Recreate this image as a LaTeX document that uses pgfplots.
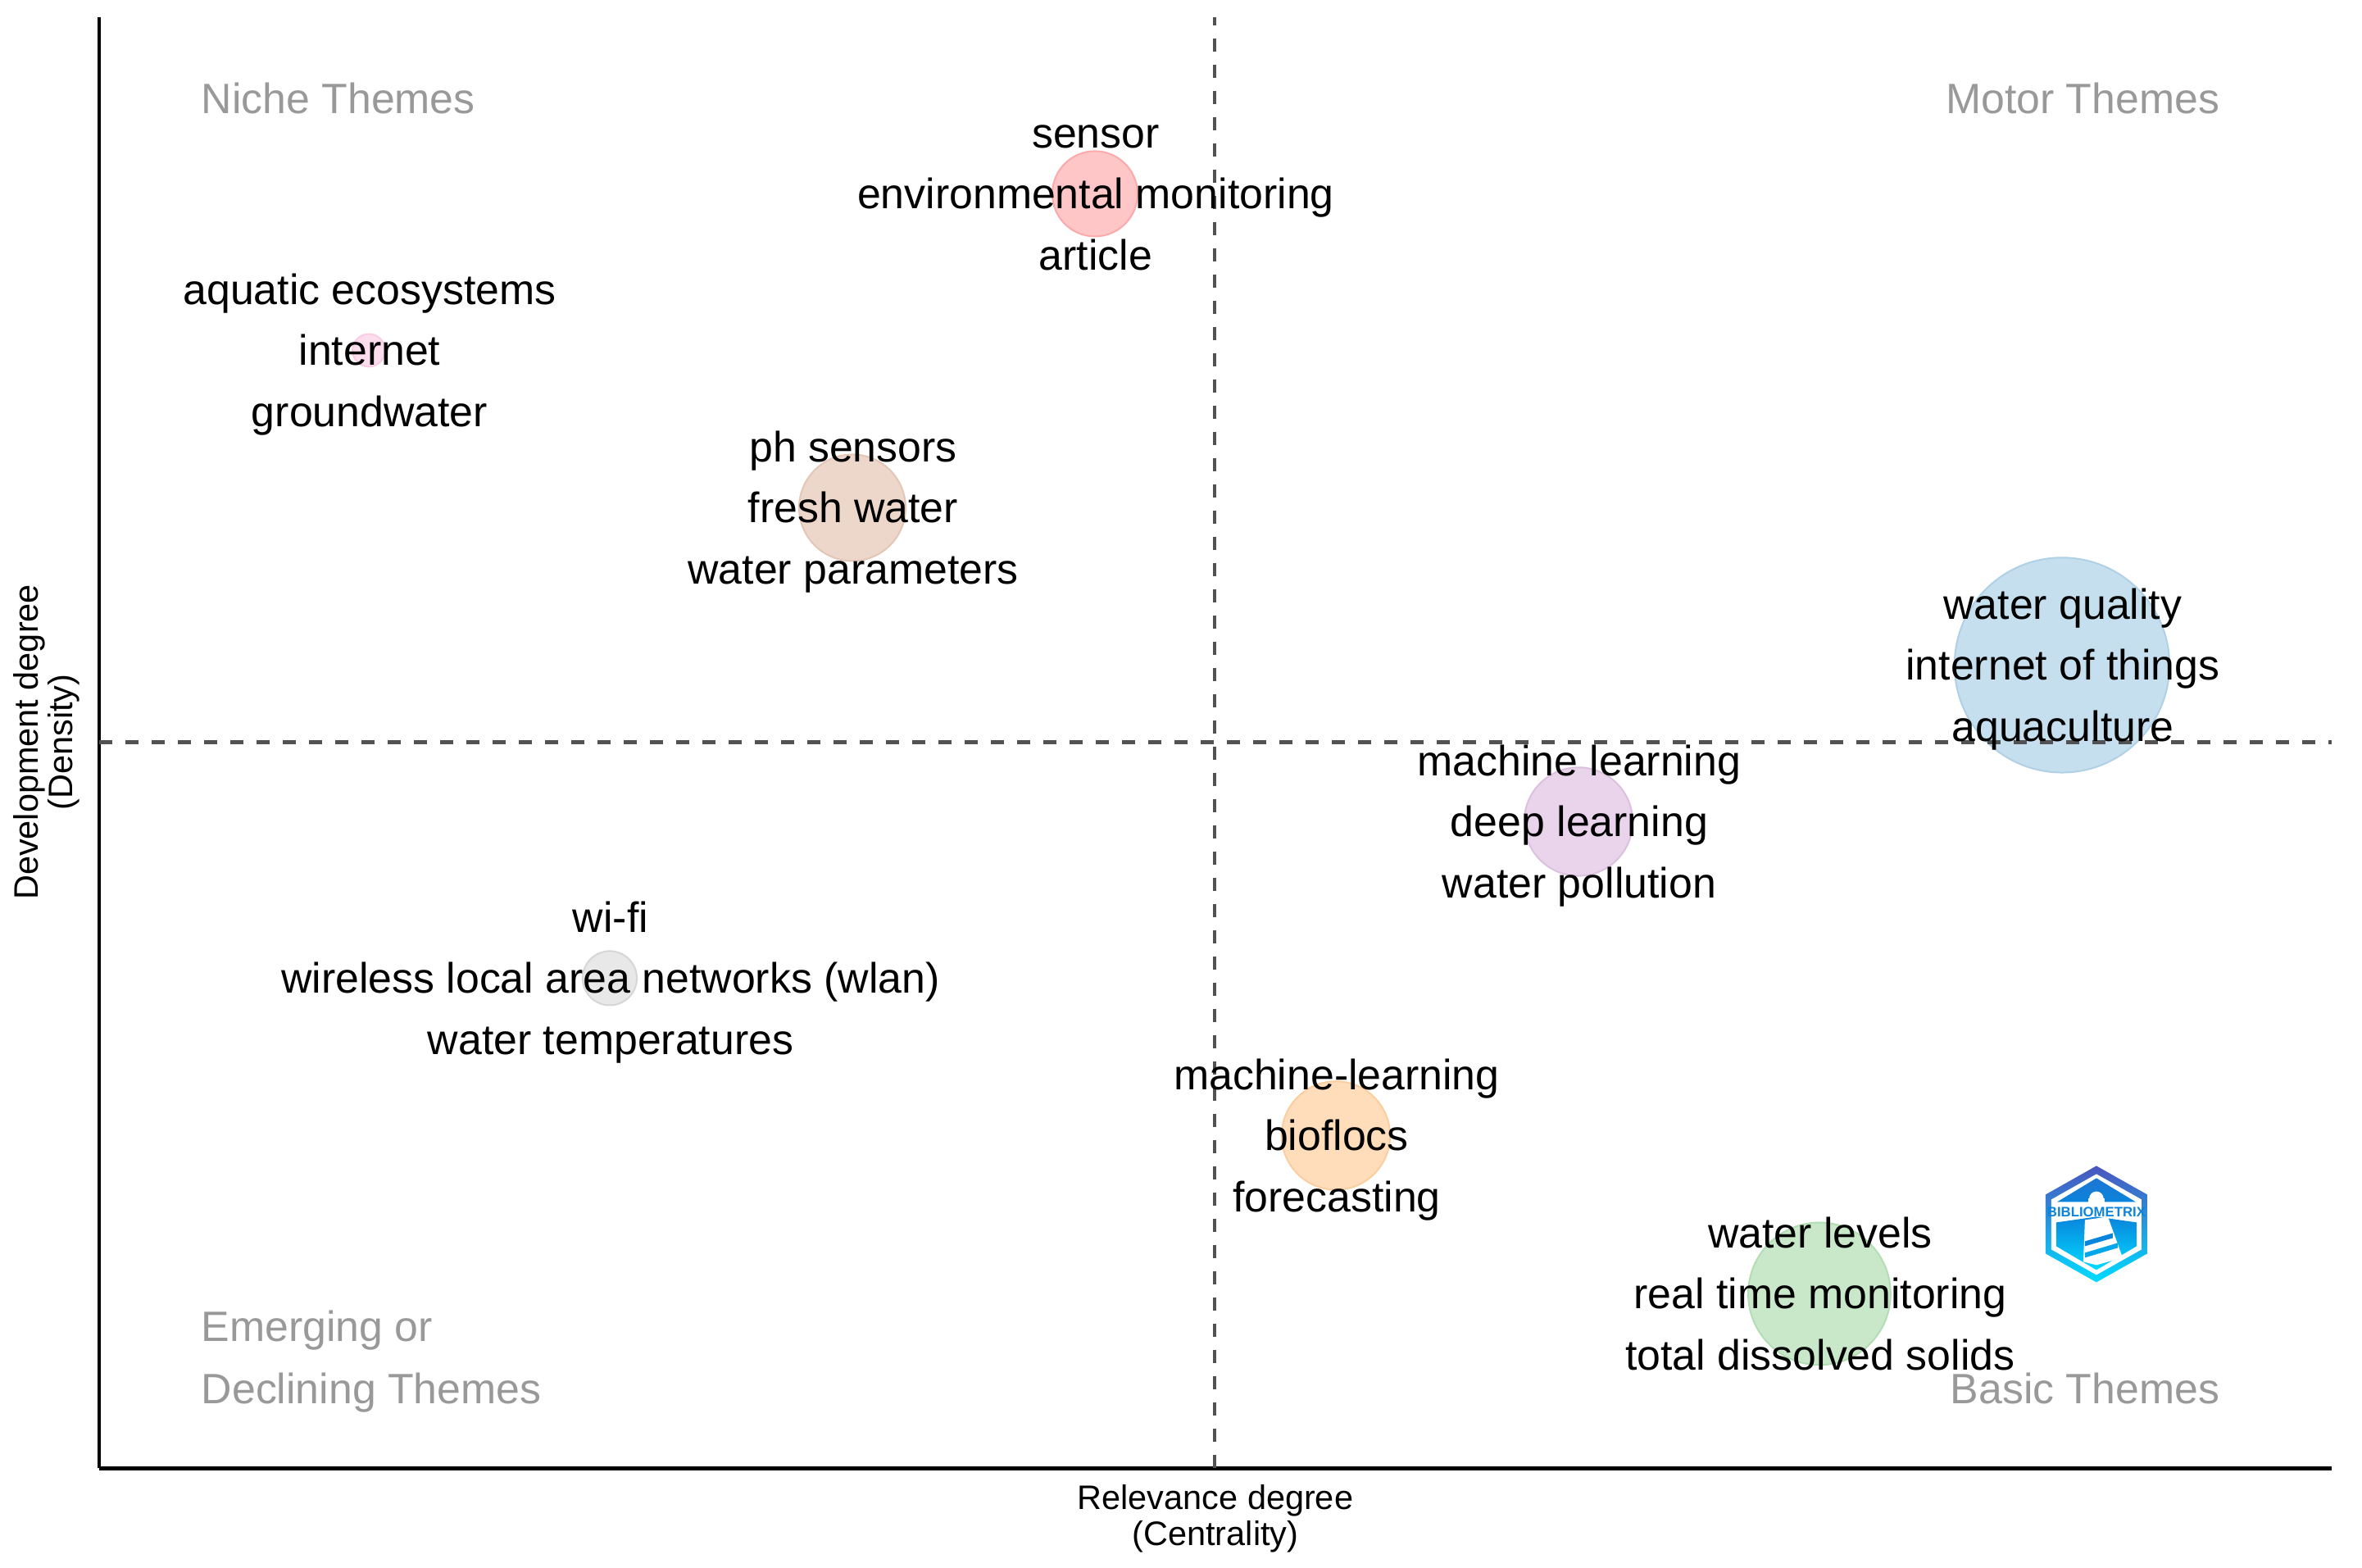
\documentclass[border=0pt]{standalone}
\usepackage{fontspec}
\setmainfont{Liberation Sans}
\usepackage{pgfplots}
\pgfplotsset{compat=1.18}

% bubble fills and outlines
\definecolor{cred}{HTML}{FFC6C7}   \definecolor{lred}{HTML}{FBA9AA}
\definecolor{cpink}{HTML}{FCDDEE}  \definecolor{lpink}{HTML}{F9CCE4}
\definecolor{cbrown}{HTML}{EDD6CA} \definecolor{lbrown}{HTML}{E3C6B6}
\definecolor{cblue}{HTML}{C6DFEE}  \definecolor{lblue}{HTML}{AFD0E5}
\definecolor{cpurp}{HTML}{E9D4EB}  \definecolor{lpurp}{HTML}{DCC1DF}
\definecolor{cgrey}{HTML}{E8E8E8}  \definecolor{lgrey}{HTML}{D6D6D6}
\definecolor{corange}{HTML}{FFDDBB}\definecolor{lorange}{HTML}{FCCD9E}
\definecolor{cgreen}{HTML}{C9E8C9} \definecolor{lgreen}{HTML}{B3DDB3}
\definecolor{logotop}{HTML}{4A55BE}
\definecolor{logomid}{HTML}{0A84DC}
\definecolor{logobot}{HTML}{00DCFF}

% one bubble: fill, outline, radius in pt
\newcommand{\bubble}[4]{\addplot[only marks, mark=*, mark size=#3pt,
    mark options={fill=#1, draw=#2, line width=0.5pt}] coordinates {#4};}
% three lines of keywords round a bubble centre
\newcommand{\words}[5]{
  \node[kw] at (axis cs:#1,#2+74.5) {#3};
  \node[kw] at (axis cs:#1,#2) {#4};
  \node[kw] at (axis cs:#1,#2-74.5) {#5};}

\begin{document}
\begin{tikzpicture}[
    kw/.style={anchor=mid, inner sep=0pt, xshift=0.25bp, yshift=-2bp, font=\fontsize{13}{15}\selectfont, text=black},
    th/.style={inner sep=0pt, yshift=-2bp, font=\fontsize{13}{15}\selectfont, text=black!40}]
\begin{axis}[
    at={(0,0)}, anchor=south west,
    set layers=standard,
    x=0.25bp, y=0.25bp,
    xmin=121, xmax=2845, ymin=121, ymax=1891,
    axis lines=left,
    axis line style={-, black, line width=1.2bp},
    xtick=\empty, ytick=\empty,
    clip=false,
    xlabel={Relevance degree\\(Centrality)},
    ylabel={Development degree\\(Density)},
    xlabel style={align=center, font=\fontsize{10.4}{11}\selectfont, at={(axis description cs:0.5,0)}, anchor=north, yshift=-1.6bp},
    ylabel style={align=center, font=\fontsize{10.4}{10.6}\selectfont, at={(axis description cs:0,0.5006)}, anchor=south, yshift=2.5bp},
]
\bubble{cred}{lred}{13.05}{(1336,1676)}
\bubble{cpink}{lpink}{5.0}{(450,1485)}
\bubble{cbrown}{lbrown}{16.3}{(1040,1293)}
\bubble{cblue}{lblue}{32.9}{(2516,1101)}
\bubble{cpurp}{lpurp}{16.6}{(1926,910)}
\bubble{cgrey}{lgrey}{8.3}{(744,719)}
\bubble{corange}{lorange}{16.6}{(1630,527)}
\bubble{cgreen}{lgreen}{21.8}{(2220,334)}

\addplot[on layer=axis descriptions, black!68, line width=1.15bp, dash pattern=on 4bp off 4bp] coordinates {(1482,121) (1482,1891)};
\addplot[on layer=axis descriptions, black!68, line width=1.15bp, dash pattern=on 4bp off 4bp] coordinates {(121,1007) (2845,1007)};

\begin{pgfonlayer}{axis foreground}
\words{1336}{1676}{sensor}{environmental monitoring}{article}
\words{450}{1485}{aquatic ecosystems}{internet}{groundwater}
\words{1040}{1293}{ph sensors}{fresh water}{water parameters}
\words{2516}{1101}{water quality}{internet of things}{aquaculture}
\words{1926}{910}{machine learning}{deep learning}{water pollution}
\words{744}{719}{wi-fi}{wireless local area networks (wlan)}{water temperatures}
\words{1630}{527}{machine-learning}{bioflocs}{forecasting}
\words{2220}{334}{water levels}{real time monitoring}{total dissolved solids}

\node[th, anchor=mid west] at (axis cs:245,1792) {Niche Themes};
\node[th, anchor=mid east] at (axis cs:2709,1792) {Motor Themes};
\node[th, anchor=mid west] at (axis cs:245,294) {Emerging or};
\node[th, anchor=mid west] at (axis cs:245,218) {Declining Themes};
\node[th, anchor=mid east] at (axis cs:2709,218) {Basic Themes};
\end{pgfonlayer}

% logo, y up = 1913 - pixel row
\shade[top color=logotop, middle color=logomid, bottom color=logobot]
  (axis cs:2558,490) -- (axis cs:2620,455) -- (axis cs:2620,383) -- (axis cs:2558,348)
  -- (axis cs:2496,383) -- (axis cs:2496,455) -- cycle;
\fill[white]
  (axis cs:2558,480) -- (axis cs:2613,449) -- (axis cs:2613,388) -- (axis cs:2558,357)
  -- (axis cs:2503,388) -- (axis cs:2503,449) -- cycle;
\shade[top color=logomid!70!logotop, bottom color=logomid]
  (axis cs:2558,475) -- (axis cs:2606,446) -- (axis cs:2510,446) -- cycle;
\shade[top color=logomid, bottom color=logobot]
  (axis cs:2509,421) -- (axis cs:2558,428) -- (axis cs:2607,421) -- (axis cs:2607,392)
  -- (axis cs:2558,363) -- (axis cs:2509,392) -- cycle;
\fill[white] (axis cs:2558,450) circle (2.2bp);
\fill[white] (axis cs:2548,450) rectangle (axis cs:2568,438);
\fill[white] (axis cs:2544,424) -- (axis cs:2572,428) -- (axis cs:2590,378) -- (axis cs:2558,369)
  -- (axis cs:2542,373) -- cycle;
\fill[logomid] (axis cs:2544,398) -- (axis cs:2578,408) -- (axis cs:2578,402) -- (axis cs:2544,392) -- cycle;
\fill[logomid!60!logobot] (axis cs:2544,384) -- (axis cs:2584,396) -- (axis cs:2584,390) -- (axis cs:2544,378) -- cycle;
\node[inner sep=0pt, text=logomid, font=\fontsize{4.2}{5}\bfseries\selectfont] at (axis cs:2558,434) {BIBLIOMETRIX};
\end{axis}
\path (-30.25bp,-30.25bp) rectangle (690.25bp,447.85bp);
\end{tikzpicture}
\end{document}
